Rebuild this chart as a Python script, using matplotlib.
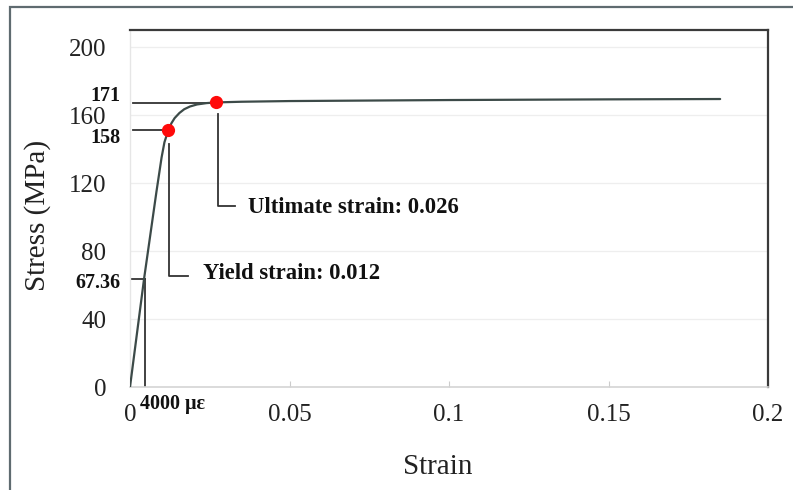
import matplotlib
matplotlib.use("Agg")
import matplotlib.pyplot as plt
from matplotlib.patches import Rectangle

# ---- data ----
strain = [0, 0.0044, 0.0083, 0.0099, 0.0108, 0.012, 0.013, 0.014, 0.0155, 0.017,
          0.0188, 0.021, 0.024, 0.027, 0.035, 0.05, 0.1, 0.15, 0.185]
stress = [0, 63.5, 115, 135, 144, 151, 155.2, 158.2, 161.2, 163.4,
          165.0, 166.2, 167.0, 167.4, 167.8, 168.2, 168.8, 169.2, 169.4]

yield_point = (0.012, 151)
ultimate_point = (0.027, 167.4)
elastic_ref = (0.0046, 63.5)

x_ticks = [0, 0.05, 0.1, 0.15, 0.2]
x_tick_labels = ["0", "0.05", "0.1", "0.15", "0.2"]
y_ticks = [0, 40, 80, 120, 160, 200]
y_tick_labels = ["0", "40", "80", "120", "160", "200"]

side_labels = ["171", "158", "67.36"]
side_label_y = [171.2, 146.5, 61.2]

yield_text = "Yield strain: 0.012"
ultimate_text = "Ultimate strain: 0.026"
micro_text = "4000 \u03bc\u03b5"

plt.rcParams['font.family'] = ['Liberation Serif', 'DejaVu Serif']

fig = plt.figure(figsize=(7.93, 4.90), dpi=100)
W, H = 793, 490
ax = fig.add_axes([130 / W, 1 - 387 / H, (768 - 130) / W, (387 - 30) / H])

# outer frame
fig.patches.append(Rectangle((10 / W, -0.1), 1.2, 1.1 - 7 / H,
                             transform=fig.transFigure, fill=False,
                             edgecolor="#5f6b70", linewidth=1.6))

ax.set_xlim(0, 0.2)
ax.set_ylim(0, 210)

# grid
for yv in y_ticks[1:]:
    ax.axhline(yv, color="#eeeeee", lw=0.9, zorder=0)

# curve
ax.plot(strain, stress, color="#3c4a48", lw=1.6, zorder=3,
        solid_capstyle="round", solid_joinstyle="round")

line_kw = dict(color="#333333", lw=1.3, zorder=2)

# horizontal reference lines
ax.plot([0.001, yield_point[0]], [yield_point[1], yield_point[1]], **line_kw)
ax.plot([0.001, ultimate_point[0]], [167.0, 167.0], **line_kw)
ax.plot([0, elastic_ref[0]], [elastic_ref[1], elastic_ref[1]], **line_kw)
ax.plot([elastic_ref[0], elastic_ref[0]], [0, elastic_ref[1]], **line_kw)

# yield bracket
ax.plot([0.0122, 0.0122, 0.0181], [142.7, 65.3, 65.3], **line_kw)
# ultimate bracket
ax.plot([0.0275, 0.0275, 0.0328], [160.6, 106.5, 106.5], **line_kw)

# points
ax.plot([yield_point[0], ultimate_point[0]], [yield_point[1], ultimate_point[1]],
        'o', color="#ff0a0a", markersize=9.5, markeredgewidth=0, zorder=5)

ax.text(0.0228, 66.5, yield_text, fontsize=16.3, fontweight="bold",
        ha="left", va="center", color="#111111")
ax.text(0.0369, 105.3, ultimate_text, fontsize=16.3, fontweight="bold",
        ha="left", va="center", color="#111111")

for lab, yv in zip(side_labels, side_label_y):
    ax.annotate(lab, xy=(0, yv), xycoords=('axes fraction', 'data'),
                xytext=(-7, 0), textcoords='offset points',
                ha="right", va="center", fontsize=14.5, fontweight="bold",
                color="#111111", annotation_clip=False)

ax.annotate(micro_text, xy=(0, 0), xycoords='data', xytext=(7.5, -12),
            textcoords='offset points', ha="left", va="center",
            fontsize=14.5, fontweight="bold", color="#111111",
            annotation_clip=False)

# ticks
ax.set_xticks(x_ticks)
ax.set_xticklabels(x_tick_labels)
ax.set_yticks(y_ticks)
ax.set_yticklabels(y_tick_labels)
ax.tick_params(axis='x', direction='in', length=4, color="#cccccc",
               labelsize=18, pad=12, labelcolor="#222222")
ax.tick_params(axis='y', length=0, labelsize=18, pad=17, labelcolor="#222222")

# spines
ax.spines['top'].set_color("#3a3a3a")
ax.spines['top'].set_linewidth(1.6)
ax.spines['right'].set_color("#3a3a3a")
ax.spines['right'].set_linewidth(1.6)
ax.spines['left'].set_color("#e6e6e6")
ax.spines['left'].set_linewidth(1.0)
ax.spines['bottom'].set_color("#d4d4d4")
ax.spines['bottom'].set_linewidth(1.2)

fig.text(38 / W, 1 - 215 / H, "Stress (MPa)", rotation=90, ha="center",
         va="center", fontsize=21, color="#222222")
fig.text(438 / W, 1 - 467 / H, "Strain", ha="center", va="center",
         fontsize=21, color="#222222")

fig.savefig("out.png", dpi=100)
